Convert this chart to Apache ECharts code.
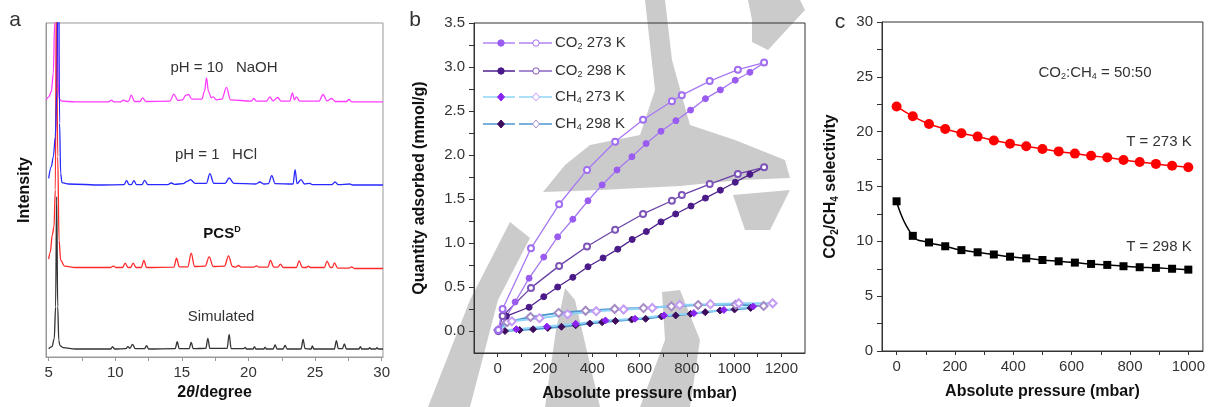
<!DOCTYPE html>
<html>
<head>
<meta charset="utf-8">
<script src="https://cdn.jsdelivr.net/npm/echarts@6/dist/echarts.min.js"></script>
<style>
  html, body { margin: 0; padding: 0; background: #fff; }
  #main { width: 1208px; height: 407px; }
</style>
</head>
<body>
<div id="main"></div>
<script>
// ---- panel a : PXRD patterns, [2theta, intensity (offset, arb. units)] ----
var pxrdNaOH = [[4.8,77.0],[5.0,77.8],[5.2,79.5],[5.35,85],[5.45,100],[5.55,135],[5.65,100],[5.72,82],[5.8,77.2],[6.0,76.6],[7.0,76.4],[9.5,76.4],[9.7,76.9],[9.9,76.4],[10.4,76.4],[10.6,76.9],[10.9,76.5],[11.0,76.6],[11.2,78.4],[11.45,76.5],[11.85,76.5],[12.05,77.6],[12.3,76.5],[14.1,76.6],[14.4,78.7],[14.7,76.8],[15.05,77.0],[15.3,78.4],[15.5,78.6],[15.75,77.2],[16.5,77.2],[16.7,79.5],[16.85,83.6],[17.0,79.5],[17.2,77.6],[17.35,77.9],[17.6,77.0],[18.0,77.2],[18.35,80.7],[18.65,77.0],[20.2,76.6],[20.4,77.4],[20.6,76.6],[21.35,76.6],[21.6,77.9],[21.85,76.7],[22.2,77.7],[22.45,76.6],[23.1,76.6],[23.3,79.1],[23.45,77.0],[23.6,77.9],[23.85,76.6],[25.3,76.6],[25.6,78.6],[25.9,76.7],[26.25,77.4],[26.5,76.5],[27.35,76.5],[27.55,77.1],[27.75,76.4],[30.1,76.4]];
var pxrdHCl = [[5.0,53.5],[5.2,57],[5.35,60],[5.5,66],[5.62,80],[5.73,140],[5.82,70],[5.9,55],[6.0,52.2],[6.5,51.8],[9.0,51.5],[10.65,51.6],[10.85,52.8],[11.05,51.6],[11.2,51.6],[11.4,52.8],[11.6,51.6],[12.0,51.6],[12.2,52.9],[12.45,51.6],[13.95,51.6],[14.2,52.1],[14.45,51.7],[15.1,51.9],[15.4,52.6],[15.65,53.1],[16.0,52.0],[16.85,52.0],[17.1,54.9],[17.4,52.0],[18.25,52.0],[18.55,53.6],[18.9,52.0],[20.55,51.8],[20.85,52.4],[21.15,51.8],[21.5,51.9],[21.75,54.3],[22.0,51.9],[23.35,51.8],[23.5,56.1],[23.65,51.9],[23.95,53.1],[24.2,51.8],[24.6,52.0],[24.8,51.6],[26.25,51.6],[26.5,52.4],[26.75,51.6],[27.6,51.8],[27.8,51.5],[30.1,51.5]];
var pxrdPCS = [[5.0,29.3],[5.12,31.3],[5.27,36.5],[5.4,39],[5.5,50],[5.58,110],[5.68,60],[5.78,35],[5.9,29],[6.2,27.2],[7.0,26.8],[9.65,26.8],[9.85,27.2],[10.05,26.8],[10.55,26.8],[10.75,28.1],[10.95,26.8],[11.15,26.8],[11.35,28.1],[11.55,26.8],[11.95,26.8],[12.15,28.9],[12.35,26.8],[14.4,26.9],[14.6,29.6],[14.8,27.0],[15.45,27.0],[15.7,31.1],[15.95,27.1],[16.75,27.2],[17.05,30.0],[17.35,27.1],[18.2,27.2],[18.5,30.3],[18.8,27.1],[19.05,26.9],[19.25,27.4],[19.45,26.9],[20.4,26.9],[20.6,27.3],[20.8,26.9],[21.45,26.9],[21.65,28.9],[21.9,26.9],[22.2,26.9],[22.4,27.8],[22.6,26.8],[23.6,26.8],[23.8,28.8],[24.05,26.8],[24.35,26.8],[24.5,27.2],[24.65,26.8],[25.7,26.8],[25.9,28.7],[26.15,26.8],[26.3,26.8],[26.45,28.2],[26.7,26.6],[27.55,26.6],[27.75,27.0],[27.95,26.5],[30.1,26.5]];
var pxrdSim = [[5.0,2.5],[5.25,3.1],[5.42,5.5],[5.52,15],[5.6,48],[5.68,15],[5.76,5],[5.85,3.4],[6.1,2.8],[7.0,2.4],[9.65,2.4],[9.8,3.1],[9.95,2.4],[10.8,2.5],[10.95,3.1],[11.1,2.6],[11.3,3.8],[11.5,2.5],[12.2,2.5],[12.35,3.4],[12.5,2.4],[14.5,2.5],[14.65,4.6],[14.8,2.5],[15.55,2.5],[15.7,4.4],[15.85,2.5],[16.8,2.6],[16.95,5.6],[17.1,2.6],[18.4,2.6],[18.55,6.8],[18.7,2.5],[19.65,2.5],[19.75,2.9],[19.85,2.4],[20.35,2.4],[20.45,3.1],[20.55,2.4],[21.15,2.4],[21.25,2.9],[21.35,2.4],[21.85,2.4],[22.0,3.6],[22.15,2.4],[22.6,2.4],[22.75,3.5],[22.9,2.4],[23.95,2.4],[24.1,5.3],[24.25,2.5],[24.7,2.4],[24.8,3.3],[24.9,2.4],[26.45,2.4],[26.6,4.9],[26.75,2.5],[27.05,2.5],[27.2,3.9],[27.35,2.4],[28.3,2.4],[28.4,3.1],[28.5,2.4],[29.0,2.4],[29.1,2.8],[29.2,2.4],[29.55,2.4],[29.65,2.8],[29.75,2.4],[30.1,2.4]];
var xTicksA = [5, 10, 15, 20, 25, 30];

// ---- panel b : isotherms, [pressure mbar, mmol/g] ----
var co2_273_ads = [[3,0.01],[74,0.33],[133,0.60],[195,0.84],[254,1.07],[318,1.27],[382,1.48],[442,1.66],[505,1.83],[568,1.98],[628,2.13],[691,2.27],[754,2.39],[816,2.51],[879,2.64],[942,2.74],[1005,2.85],[1067,2.94],[1127,3.05]];
var co2_273_des = [[1127,3.05],[1016,2.97],[897,2.84],[779,2.68],[737,2.61],[615,2.40],[497,2.15],[378,1.83],[260,1.44],[141,0.94],[21,0.25],[3,0.01]];
var co2_298_ads = [[3,0.0],[37,0.17],[133,0.27],[195,0.39],[254,0.50],[318,0.61],[382,0.73],[446,0.83],[508,0.93],[569,1.04],[629,1.13],[691,1.24],[753,1.33],[818,1.42],[879,1.51],[942,1.60],[1005,1.69],[1067,1.78],[1127,1.86]];
var co2_298_des = [[1127,1.86],[1016,1.785],[897,1.67],[779,1.545],[737,1.48],[615,1.33],[497,1.15],[378,0.96],[260,0.74],[141,0.49],[21,0.17],[3,0.0]];
var ch4_273_ads = [[3,0.0],[79,0.02],[208,0.05],[330,0.083],[456,0.12],[581,0.139],[704,0.177],[830,0.203],[957,0.24],[1081,0.278]];
var ch4_273_des = [[1163,0.315],[1020,0.315],[900,0.305],[770,0.296],[654,0.262],[533,0.244],[417,0.225],[296,0.19],[177,0.146],[60,0.11],[3,0.01]];
var ch4_298_ads = [[31,0.0],[93,0.01],[150,0.02],[212,0.035],[270,0.048],[330,0.065],[390,0.085],[442,0.10],[498,0.115],[567,0.13],[626,0.139],[693,0.165],[753,0.177],[816,0.195],[878,0.214],[941,0.233],[1002,0.245],[1070,0.262]];
var ch4_298_des = [[1125,0.285],[1007,0.30],[848,0.295],[735,0.28],[617,0.26],[495,0.25],[372,0.23],[258,0.206],[139,0.16],[40,0.1],[3,0.01]];
var xTicksB = [0, 200, 400, 600, 800, 1000, 1200];
var yTicksB = [0, 0.5, 1.0, 1.5, 2.0, 2.5, 3.0, 3.5];

// ---- panel c : IAST selectivity ----
var pressureC = [0, 55.6, 111.1, 166.7, 222.2, 277.8, 333.3, 388.9, 444.4, 500, 555.6, 611.1, 666.7, 722.2, 777.8, 833.3, 888.9, 944.4, 1000];
var sel273 = [22.3, 21.4, 20.7, 20.25, 19.85, 19.55, 19.2, 18.9, 18.67, 18.42, 18.2, 18.0, 17.8, 17.64, 17.42, 17.24, 17.06, 16.9, 16.76];
var sel298 = [13.65, 10.5, 9.9, 9.55, 9.2, 9.0, 8.8, 8.6, 8.45, 8.3, 8.18, 8.06, 7.94, 7.85, 7.73, 7.64, 7.58, 7.5, 7.42];
var xTicksC = [0, 200, 400, 600, 800, 1000];
var yTicksC = [0, 5, 10, 15, 20, 25, 30];

var FONT = '"Liberation Sans", Arial, sans-serif';

function zip(xs, ys) {
  return xs.map(function (x, i) { return [x, ys[i]]; });
}
function plain(v) { return String(v); }

var chart = echarts.init(document.getElementById('main'), null, { renderer: 'canvas' });

function lineSeries(data, color, xi) {
  return {
    type: 'line', xAxisIndex: xi, yAxisIndex: xi, data: data,
    showSymbol: false, symbol: 'none', animation: false, silent: true,
    smooth: 0.35, smoothMonotone: 'x',
    lineStyle: { color: color, width: 1.3 }
  };
}

function isoSeries(data, lineColor, lineWidth, symbol, symColor, size) {
  return {
    type: 'line', xAxisIndex: 1, yAxisIndex: 1, data: data,
    symbol: symbol, symbolSize: size, animation: false, silent: true,
    lineStyle: { color: lineColor, width: lineWidth },
    itemStyle: { color: symColor, borderColor: symColor, borderWidth: 1 }
  };
}

// gray watermark over panel b (approximate outline)
var watermark = [
  [[645,0],[665,0],[672,60],[690,125],[735,140],[785,160],[790,178],[740,180],[680,186],[600,190],[543,192],[565,165],[590,145],[640,135],[655,90]],
  [[748,0],[800,0],[805,10],[768,50],[752,42],[752,20]],
  [[510,222],[530,238],[498,300],[470,407],[428,407],[470,300]],
  [[565,288],[575,300],[600,407],[545,407],[556,330]],
  [[662,292],[680,290],[700,340],[690,407],[640,407],[665,340]],
  [[733,195],[790,190],[770,230],[745,230]]
];

var graphics = watermark.map(function (pts) {
  return { type: 'polygon', z: -1, silent: true, shape: { points: pts }, style: { fill: '#cbcbcb' } };
});

// legend of panel b
var legendRows = [
  { y: 43, label: '{n|CO}{s|2}{n| 273 K}', l1: '#b084f2', m1: '#9a5cf0', l2: '#b084f2', m2: '#a06ef0', sym: 'circle' },
  { y: 71, label: '{n|CO}{s|2}{n| 298 K}', l1: '#4e1f8e', m1: '#4a1a88', l2: '#8a64c2', m2: '#7d55b8', sym: 'circle' },
  { y: 97, label: '{n|CH}{s|4}{n| 273 K}', l1: '#8fd4f7', m1: '#8a22f0', l2: '#8fd4f7', m2: '#c59cf4', sym: 'diamond' },
  { y: 124, label: '{n|CH}{s|4}{n| 298 K}', l1: '#4c95cf', m1: '#3e0c5c', l2: '#4c95cf', m2: '#a58bc6', sym: 'diamond' }
];

function marker(kind, cx, cy, fill, stroke) {
  if (kind === 'circle') {
    return { type: 'circle', shape: { cx: cx, cy: cy, r: 3.2 }, style: { fill: fill, stroke: stroke, lineWidth: 1 } };
  }
  return { type: 'polygon', shape: { points: [[cx, cy - 4], [cx + 3.5, cy], [cx, cy + 4], [cx - 3.5, cy]] }, style: { fill: fill, stroke: stroke, lineWidth: 1 } };
}

legendRows.forEach(function (r) {
  graphics.push({ type: 'line', shape: { x1: 483, y1: r.y, x2: 515, y2: r.y }, style: { stroke: r.l1, lineWidth: 1.5 } });
  graphics.push(marker(r.sym, 501, r.y, r.m1, r.m1));
  graphics.push({ type: 'line', shape: { x1: 519, y1: r.y, x2: 552, y2: r.y }, style: { stroke: r.l2, lineWidth: 1.5 } });
  graphics.push(marker(r.sym, 536, r.y, '#fff', r.m2));
  graphics.push({
    type: 'text', x: 555, y: r.y,
    style: {
      text: r.label, fill: '#333', verticalAlign: 'middle', align: 'left',
      rich: { n: { fontSize: 15, fontFamily: FONT, fill: '#333' }, s: { fontSize: 9, fontFamily: FONT, fill: '#333', padding: [8, 0, 0, 0] } }
    }
  });
});

function label(text, x, y, size, weight) {
  return {
    type: 'text', x: x, y: y,
    style: { text: text, fill: '#333', align: 'center', verticalAlign: 'middle', font: (weight || 'normal') + ' ' + size + 'px ' + FONT }
  };
}

graphics.push(label('a', 15, 20, 21));
graphics.push(label('b', 415, 20, 21));
graphics.push(label('c', 840, 22, 21));
graphics.push(label('pH = 10   NaOH', 224, 68, 15));
graphics.push(label('pH = 1   HCl', 216, 155, 15));
graphics.push(label('Simulated', 221, 317, 15));
graphics.push({
  type: 'text', x: 222, y: 234,
  style: {
    text: '{b|PCS}{sup|D}', align: 'center', verticalAlign: 'middle',
    rich: { b: { fontSize: 15, fontWeight: 'bold', fontFamily: FONT, fill: '#111' }, sup: { fontSize: 9, fontWeight: 'bold', fontFamily: FONT, fill: '#111', padding: [0, 0, 9, 0] } }
  }
});
graphics.push(label('T = 273 K', 1159, 142, 15));
graphics.push(label('T = 298 K', 1159, 247, 15));
graphics.push({
  type: 'text', x: 1095, y: 73,
  style: {
    text: '{n|CO}{s|2}{n|:CH}{s|4}{n| = 50:50}', align: 'center', verticalAlign: 'middle',
    rich: { n: { fontSize: 15, fontFamily: FONT, fill: '#333' }, s: { fontSize: 9, fontFamily: FONT, fill: '#333', padding: [8, 0, 0, 0] } }
  }
});

var tickLabel = { fontSize: 15, color: '#333', fontFamily: FONT };
var titleStyle = { fontSize: 16, fontWeight: 'bold', color: '#111', fontFamily: FONT };

var option = {
  animation: false,
  textStyle: { fontFamily: FONT },
  grid: [
    { left: 46, top: 23, width: 337, height: 334, show: true, borderColor: '#999', borderWidth: 1, backgroundColor: 'transparent' },
    { left: 474, top: 23, width: 331, height: 334, show: true, borderColor: '#333', borderWidth: 1, backgroundColor: 'transparent' },
    { left: 882, top: 22, width: 330, height: 329, show: true, borderColor: '#333', borderWidth: 1, backgroundColor: 'transparent' }
  ],
  xAxis: [
    {
      gridIndex: 0, type: 'value', min: 4.8, max: 30.1,
      axisLine: { onZero: false, lineStyle: { color: '#999' } },
      axisTick: { customValues: [5, 7.5, 10, 12.5, 15, 17.5, 20, 22.5, 25, 27.5, 30], length: 4, lineStyle: { color: '#999' } },
      axisLabel: Object.assign({ customValues: xTicksA, margin: 8, formatter: plain }, tickLabel),
      splitLine: { show: false },
      name: '{b|2}{i|θ}{b|/degree}', nameLocation: 'middle', nameGap: 25,
      nameTextStyle: { rich: { b: titleStyle, i: Object.assign({ fontStyle: 'italic' }, titleStyle) } }
    },
    {
      gridIndex: 1, type: 'value', min: -100, max: 1300,
      axisLine: { onZero: false, lineStyle: { color: '#333' } },
      axisTick: { customValues: [0, 100, 200, 300, 400, 500, 600, 700, 800, 900, 1000, 1100, 1200], length: 4, lineStyle: { color: '#333' } },
      axisLabel: Object.assign({ customValues: xTicksB, margin: 8, formatter: plain }, tickLabel),
      splitLine: { show: false },
      name: 'Absolute pressure (mbar)', nameLocation: 'middle', nameGap: 33, nameTextStyle: titleStyle
    },
    {
      gridIndex: 2, type: 'value', min: -50, max: 1050,
      axisLine: { onZero: false, lineStyle: { color: '#333' } },
      axisTick: { customValues: [0, 100, 200, 300, 400, 500, 600, 700, 800, 900, 1000], length: 4, lineStyle: { color: '#333' } },
      axisLabel: Object.assign({ customValues: xTicksC, margin: 8, formatter: plain }, tickLabel),
      splitLine: { show: false },
      name: 'Absolute pressure (mbar)', nameLocation: 'middle', nameGap: 33, nameTextStyle: titleStyle
    }
  ],
  yAxis: [
    {
      gridIndex: 0, type: 'value', min: 0, max: 100,
      axisLine: { show: true, lineStyle: { color: '#999' } },
      axisTick: { show: false }, axisLabel: { show: false }, splitLine: { show: false },
      name: 'Intensity', nameLocation: 'middle', nameGap: 13, nameTextStyle: titleStyle
    },
    {
      gridIndex: 1, type: 'value', min: -0.25, max: 3.5,
      axisLine: { onZero: false, lineStyle: { color: '#333' } },
      axisTick: { customValues: [0, 0.25, 0.5, 0.75, 1, 1.25, 1.5, 1.75, 2, 2.25, 2.5, 2.75, 3, 3.25, 3.5], length: 5, lineStyle: { color: '#333' } },
      axisLabel: Object.assign({ customValues: yTicksB, margin: 9, formatter: function (v) { return v.toFixed(1); } }, tickLabel),
      splitLine: { show: false },
      name: 'Quantity adsorbed (mmol/g)', nameLocation: 'middle', nameGap: 46, nameTextStyle: titleStyle
    },
    {
      gridIndex: 2, type: 'value', min: 0, max: 30,
      axisLine: { onZero: false, lineStyle: { color: '#333' } },
      axisTick: { customValues: [0, 2.5, 5, 7.5, 10, 12.5, 15, 17.5, 20, 22.5, 25, 27.5, 30], length: 5, lineStyle: { color: '#333' } },
      axisLabel: Object.assign({ customValues: yTicksC, margin: 9, formatter: plain }, tickLabel),
      splitLine: { show: false },
      name: '{n|CO}{s|2}{n|/CH}{s|4}{n| selectivity}', nameLocation: 'middle', nameGap: 42,
      nameTextStyle: { rich: { n: titleStyle, s: Object.assign({}, titleStyle, { fontSize: 10, padding: [9, 0, 0, 0] }) } }
    }
  ],
  graphic: graphics,
  series: [
    lineSeries(pxrdSim, '#333333', 0),
    lineSeries(pxrdPCS, '#ff2a2a', 0),
    lineSeries(pxrdNaOH, '#ff3cff', 0),
    lineSeries(pxrdHCl, '#2828ff', 0),

    isoSeries(ch4_298_ads, '#4c95cf', 2, 'diamond', '#3e0c5c', 7),
    isoSeries(ch4_298_des, '#4c95cf', 2, 'emptyDiamond', '#a58bc6', 8),
    isoSeries(ch4_273_ads, '#8fd4f7', 2, 'diamond', '#8a22f0', 7),
    isoSeries(ch4_273_des, '#8fd4f7', 2, 'emptyDiamond', '#c59cf4', 8),
    isoSeries(co2_298_ads, '#4e1f8e', 1.3, 'circle', '#4a1a88', 6),
    isoSeries(co2_298_des, '#6a42a8', 1.3, 'emptyCircle', '#7d55b8', 6),
    isoSeries(co2_273_ads, '#a878f2', 1.3, 'circle', '#9a5cf0', 6),
    isoSeries(co2_273_des, '#a878f2', 1.3, 'emptyCircle', '#a06ef0', 6),

    {
      type: 'line', xAxisIndex: 2, yAxisIndex: 2, data: zip(pressureC, sel273),
      smooth: true, symbol: 'circle', symbolSize: 10, animation: false, silent: true,
      lineStyle: { color: '#ff0000', width: 1.5 }, itemStyle: { color: '#ff0000' }
    },
    {
      type: 'line', xAxisIndex: 2, yAxisIndex: 2, data: zip(pressureC, sel298),
      smooth: true, symbol: 'rect', symbolSize: 8, animation: false, silent: true,
      lineStyle: { color: '#000000', width: 1.5 }, itemStyle: { color: '#000000' }
    }
  ]
};

chart.setOption(option);
</script>
</body>
</html>
